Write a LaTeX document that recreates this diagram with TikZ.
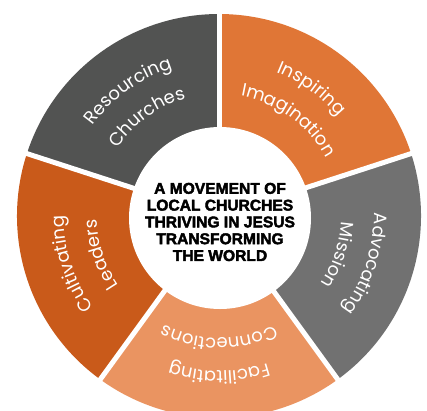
\documentclass[tikz,border=0pt]{standalone}
\usepackage{fontspec}
\usepackage{xcolor}
\usetikzlibrary{decorations.text}
\newfontfamily\segfont{Poppins}
\newfontfamily\hubfont{Liberation Sans}[BoldFeatures={FakeBold=2.6}]
\definecolor{resgray}{HTML}{525352}
\definecolor{insorange}{HTML}{E07636}
\definecolor{advgray}{HTML}{717171}
\definecolor{facorange}{HTML}{EA9461}
\definecolor{culorange}{HTML}{C95A1A}
\newcommand\segtxt{\color{white}\segfont\fontsize{18}{18}\selectfont}
% one word bent round the ring: mid angle, radius, word
\newcommand\ringword[3]{\path[decorate,decoration={text along path,text align=center,text={|\segtxt|#3}}]
	(#1+45:#2) arc[start angle=#1+45, end angle=#1-45, radius=#2];}

\begin{document}
\begin{tikzpicture}[x=1pt, y=1pt]
	\tikzstyle{gap}=[white, line width=5pt]
	\tikzstyle{hub}=[fill=white, circle, minimum size=182pt, inner sep=0pt]
	\useasboundingbox (-219,-194) rectangle (208,216);
	\clip (-219,-194) rectangle (208,216);
	% the five sectors
	\fill[resgray]   (0,0) -- (90:202)   arc[start angle=90,   end angle=162,  radius=202] -- cycle;
	\fill[insorange] (0,0) -- (18:202)   arc[start angle=18,   end angle=90,   radius=202] -- cycle;
	\fill[advgray]   (0,0) -- (-54:202)  arc[start angle=-54,  end angle=18,   radius=202] -- cycle;
	\fill[facorange] (0,0) -- (-126:202) arc[start angle=-126, end angle=-54,  radius=202] -- cycle;
	\fill[culorange] (0,0) -- (162:202)  arc[start angle=162,  end angle=234,  radius=202] -- cycle;
	\coordinate (c) at (0,0);
	\coordinate (g1) at (90:215);
	\coordinate (g2) at (18:215);
	\coordinate (g3) at (-54:215);
	\coordinate (g4) at (-126:215);
	\coordinate (g5) at (162:215);
	\draw[gap] (c) -- (g1);
	\draw[gap] (c) -- (g2);
	\draw[gap] (c) -- (g3);
	\draw[gap] (c) -- (g4);
	\draw[gap] (c) -- (g5);
	% labels
	\ringword{126}{155}{Resourcing}
	\ringword{126}{122}{Churches}
	\ringword{54}{155}{Inspiring}
	\ringword{54}{122}{Imagination}
	\ringword{-18}{155}{Advocating}
	\ringword{-18}{122}{Mission}
	\ringword{-90}{155}{Facilitating}
	\ringword{-90}{122}{Connections}
	\ringword{198}{155}{Cultivating}
	\ringword{198}{122}{Leaders}
	\node[hub] (hub) at (1,-2) {};
	\node[align=center, font=\hubfont\bfseries\fontsize{15.6}{16.8}\selectfont] (motto) at (1,-6)
		{A MOVEMENT OF\\LOCAL CHURCHES\\THRIVING IN JESUS\\TRANSFORMING\\THE WORLD};
\end{tikzpicture}
\end{document}
